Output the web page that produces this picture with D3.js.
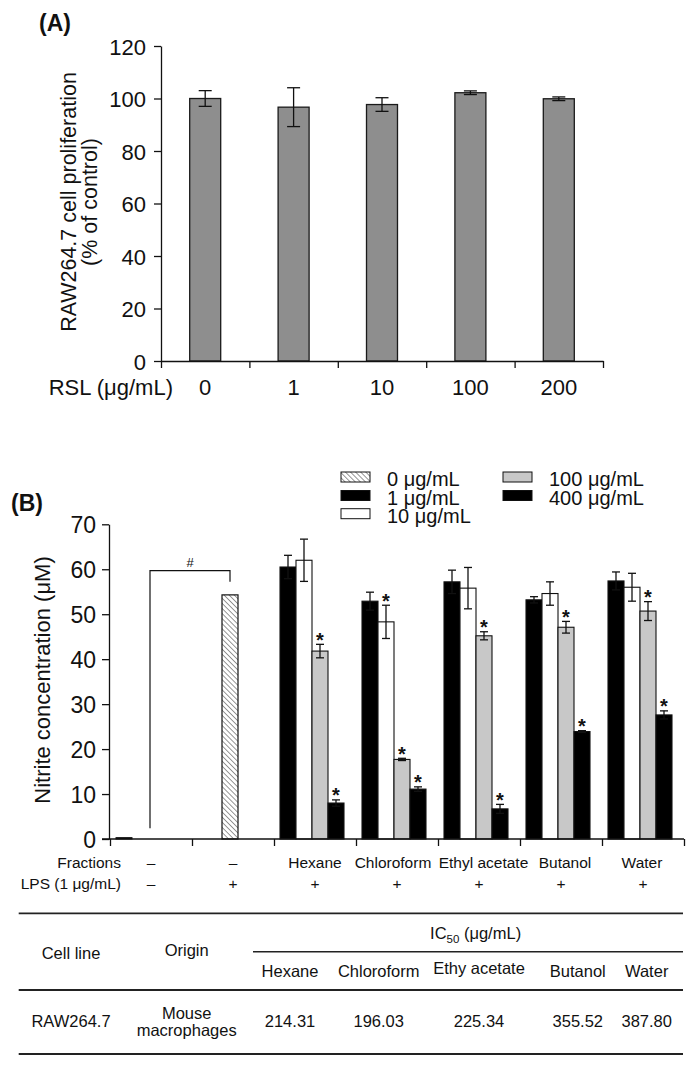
<!DOCTYPE html>
<html><head><meta charset="utf-8">
<script src="https://cdn.jsdelivr.net/npm/d3@7"></script>
<style>
body{margin:0;background:#fff}
svg{display:block}
text{font-family:"Liberation Sans",Arial,Helvetica,sans-serif;fill:#111}
</style>
</head><body>
<svg id="c" width="692" height="1067"></svg>
<script>
// ---------- Panel A data ----------
const rslDoses = ["0", "1", "10", "100", "200"];
const rslMean  = [100.0, 96.7, 97.7, 102.2, 99.9];
const rslErr   = [3.0, 7.4, 2.6, 0.7, 0.7];
const yTicksA  = [0, 20, 40, 60, 80, 100, 120];

// ---------- Panel B data ----------
const categoriesB = ["none", "lps", "Hexane", "Chloroform", "Ethyl acetate", "Butanol", "Water"];
const fractionRow = ["–", "–", "Hexane", "Chloroform", "Ethyl acetate", "Butanol", "Water"];
const lpsRow      = ["–", "+", "+", "+", "+", "+", "+"];
const fractions   = ["Hexane", "Chloroform", "Ethyl acetate", "Butanol", "Water"];
const mean1   = [60.5, 52.9, 57.2, 53.2, 57.4];
const err1    = [2.6, 2.0, 2.6, 0.7, 2.0];
const mean10  = [62.0, 48.3, 55.8, 54.6, 56.0];
const err10   = [4.7, 3.7, 4.6, 2.6, 3.1];
const mean100 = [41.8, 17.7, 45.2, 47.1, 50.7];
const err100  = [1.5, 0.25, 0.9, 1.3, 2.1];
const mean400 = [8.0, 11.1, 6.7, 23.9, 27.6];
const err400  = [0.7, 0.5, 1.0, 0.2, 0.9];
const star1   = [false, false, false, false, false];
const star10  = [false, true, false, false, false];
const star100 = [true, true, true, true, true];
const star400 = [true, true, true, true, true];
const ctrlNoLPS = 0.3;
const ctrlLPS = 54.3, ctrlLPSErr = 0.1;
const bracketLeftBottom = 2.4, bracketTop = 59.7, bracketRightBottom = 57.2;
const yTicksB = [0, 10, 20, 30, 40, 50, 60, 70];
const legendLabels = ["0 μg/mL", "1 μg/mL", "10 μg/mL", "100 μg/mL", "400 μg/mL"];

// ---------- Table data ----------
const ic50Cols   = ["Hexane", "Chloroform", "Ethy acetate", "Butanol", "Water"];
const ic50Values = ["214.31", "196.03", "225.34", "355.52", "387.80"];
const cellLine = "RAW264.7";
const origin = ["Mouse", "macrophages"];

const svg = d3.select("#c");
const INK = "#111";

const defs = svg.append("defs");
const pat = defs.append("pattern").attr("id", "hatch").attr("patternUnits", "userSpaceOnUse")
  .attr("width", 3.6).attr("height", 3.6).attr("patternTransform", "rotate(-45)");
pat.append("rect").attr("width", 3.6).attr("height", 3.6).attr("fill", "#fff");
pat.append("line").attr("x1", 0).attr("y1", 0).attr("x2", 0).attr("y2", 3.6)
  .attr("stroke", "#444").attr("stroke-width", 1.1);

function styleAxis(g, fs) {
  g.selectAll("path,line").attr("stroke", INK).attr("stroke-width", 1.3);
  g.selectAll("text").attr("font-size", fs).attr("fill", INK)
    .attr("font-family", "'Liberation Sans', Arial, sans-serif");
}

// ================= PANEL A =================
const xA = d3.scaleBand().domain(rslDoses).range([161, 603]);
const yA = d3.scaleLinear().domain([0, 120]).range([361, 46]);
const gA = svg.append("g");

svg.append("text").attr("x", 39).attr("y", 31).attr("font-size", 23).attr("font-weight", "bold").text("(A)");

const barWA = 31, capA = 13;
gA.selectAll("rect.a").data(rslDoses).join("rect")
  .attr("x", d => xA(d) + xA.bandwidth() / 2 - barWA / 2)
  .attr("y", (d, i) => yA(rslMean[i]))
  .attr("width", barWA)
  .attr("height", (d, i) => yA(0) - yA(rslMean[i]))
  .attr("fill", "#8e8e8e").attr("stroke", "#1a1a1a").attr("stroke-width", 1.3);

rslDoses.forEach((d, i) => {
  const cx = xA(d) + xA.bandwidth() / 2;
  const t = yA(rslMean[i] + rslErr[i]), b = yA(rslMean[i] - rslErr[i]);
  gA.append("line").attr("x1", cx).attr("x2", cx).attr("y1", t).attr("y2", b).attr("stroke", INK).attr("stroke-width", 1.3);
  [t, b].forEach(y => gA.append("line").attr("x1", cx - capA / 2).attr("x2", cx + capA / 2).attr("y1", y).attr("y2", y).attr("stroke", INK).attr("stroke-width", 1.3));
});

const axA = gA.append("g").attr("transform", "translate(161,0)")
  .call(d3.axisLeft(yA).tickValues(yTicksA).tickSize(7).tickSizeOuter(0).tickPadding(8));
styleAxis(axA, 22);
axA.selectAll("text").attr("dy", "0.37em");

const xAIdx = d3.scaleLinear().domain([0, rslDoses.length]).range([161, 603]);
const axAx = gA.append("g").attr("transform", "translate(0,361)")
  .call(d3.axisBottom(xAIdx).ticks(rslDoses.length).tickFormat("").tickSize(7).tickSizeOuter(0));
styleAxis(axAx, 22);

gA.selectAll("text.xl").data(rslDoses).join("text")
  .attr("x", d => xA(d) + xA.bandwidth() / 2).attr("y", 394.5)
  .attr("text-anchor", "middle").attr("font-size", 22).text(d => d);
gA.append("text").attr("x", 173).attr("y", 394.5).attr("text-anchor", "end").attr("font-size", 22).text("RSL (μg/mL)");

const ylA = gA.append("text").attr("transform", "translate(0,202) rotate(-90)").attr("text-anchor", "middle").attr("font-size", 21.5);
ylA.append("tspan").attr("x", 0).attr("y", 75.5).text("RAW264.7 cell proliferation");
ylA.append("tspan").attr("x", 0).attr("y", 96.5).text("(% of control)");

// ================= PANEL B =================
const xB = d3.scaleBand().domain(categoriesB).range([110, 684]);
const yB = d3.scaleLinear().domain([0, 70]).range([839, 524.3]);
const gB = svg.append("g");
const slotW = 16, capB = 8, shift = -3;
const center = c => xB(c) + xB.bandwidth() / 2 + shift;

svg.append("text").attr("x", 11).attr("y", 511).attr("font-size", 23).attr("font-weight", "bold").text("(B)");

// legend
const legFills = ["url(#hatch)", "#000", "#fff", "#c8c8c8", "#000"];
const legPos = [[341, 472], [341, 490.5], [341, 508.7], [503, 472], [503, 490.5]];
legendLabels.forEach((l, i) => {
  const [lx, ly] = legPos[i];
  gB.append("rect").attr("x", lx).attr("y", ly).attr("width", 29).attr("height", 10)
    .attr("fill", legFills[i]).attr("stroke", INK).attr("stroke-width", 1);
  gB.append("text").attr("x", lx + 46).attr("y", ly + 14).attr("font-size", 20).text(l);
});

// control bars
gB.append("rect").attr("x", center("none") - 2 * slotW).attr("y", yB(ctrlNoLPS))
  .attr("width", slotW).attr("height", yB(0) - yB(ctrlNoLPS))
  .attr("fill", "#000").attr("stroke", INK).attr("stroke-width", 1);
gB.append("rect").attr("x", center("lps") - slotW / 2).attr("y", yB(ctrlLPS))
  .attr("width", slotW).attr("height", yB(0) - yB(ctrlLPS))
  .attr("fill", "url(#hatch)").attr("stroke", INK).attr("stroke-width", 1.2);

// bracket with #
const bl = xB("none") + xB.bandwidth() / 2 - 1, br = center("lps");
gB.append("path").attr("d", `M${bl},${yB(bracketLeftBottom)}V${yB(bracketTop)}H${br}V${yB(bracketRightBottom)}`)
  .attr("fill", "none").attr("stroke", INK).attr("stroke-width", 1.2);
gB.append("text").attr("x", (bl + br) / 2).attr("y", yB(bracketTop) - 4).attr("text-anchor", "middle").attr("font-size", 13).text("#");

// grouped bars
const series = [
  {m: mean1, e: err1, s: star1, fill: "#000"},
  {m: mean10, e: err10, s: star10, fill: "#fff"},
  {m: mean100, e: err100, s: star100, fill: "#c8c8c8"},
  {m: mean400, e: err400, s: star400, fill: "#000"}
];
fractions.forEach((f, i) => {
  const cx0 = center(f) - 2 * slotW;
  series.forEach((s, j) => {
    const x = cx0 + j * slotW, v = s.m[i], er = s.e[i], cx = x + slotW / 2;
    gB.append("rect").attr("x", x).attr("y", yB(v)).attr("width", slotW).attr("height", yB(0) - yB(v))
      .attr("fill", s.fill).attr("stroke", INK).attr("stroke-width", 1.1);
    const t = yB(v + er), b = yB(v - er);
    gB.append("line").attr("x1", cx).attr("x2", cx).attr("y1", t).attr("y2", b).attr("stroke", INK).attr("stroke-width", 1.3);
    [t, b].forEach(y => gB.append("line").attr("x1", cx - capB / 2).attr("x2", cx + capB / 2).attr("y1", y).attr("y2", y).attr("stroke", INK).attr("stroke-width", 1.3));
    if (s.s[i]) gB.append("text").attr("x", cx).attr("y", t + 2.5).attr("text-anchor", "middle")
      .attr("font-size", 20).attr("font-weight", "bold").text("*");
  });
});

const axB = gB.append("g").attr("transform", "translate(109,0)")
  .call(d3.axisLeft(yB).tickValues(yTicksB).tickSize(7).tickSizeOuter(0).tickPadding(6));
styleAxis(axB, 23);
axB.selectAll("text").attr("dy", "0.37em");

const xBIdx = d3.scaleLinear().domain([0, categoriesB.length]).range([110, 684]);
const axBx = gB.append("g").attr("transform", "translate(0,839)")
  .call(d3.axisBottom(xBIdx).ticks(categoriesB.length).tickFormat("").tickSize(7).tickSizeOuter(0));
styleAxis(axBx, 16);
axBx.select("path.domain").attr("d", "M102,0H684");

gB.append("text").attr("transform", "translate(50,680) rotate(-90)").attr("text-anchor", "middle")
  .attr("font-size", 22).text("Nitrite concentration (μM)");

// small horizontal nudges so the long category labels sit as in the figure
const labelNudge = {"Chloroform": -4, "Ethyl acetate": 4.5, "Butanol": 4, "Water": -1};
categoriesB.forEach((c, i) => {
  const cx = xB(c) + xB.bandwidth() / 2;
  gB.append("text").attr("x", cx + (labelNudge[c] || 0)).attr("y", 867.5).attr("text-anchor", "middle").attr("font-size", 15.5).text(fractionRow[i]);
  gB.append("text").attr("x", cx).attr("y", 889).attr("text-anchor", "middle").attr("font-size", 15.5).text(lpsRow[i]);
});
gB.append("text").attr("x", 121).attr("y", 867.5).attr("text-anchor", "end").attr("font-size", 15.5).text("Fractions");
gB.append("text").attr("x", 121).attr("y", 889).attr("text-anchor", "end").attr("font-size", 15.5).text("LPS (1 μg/mL)");

// ================= TABLE =================
const gT = svg.append("g");
const colX = [290, 378.7, 479, 577.8, 646.7];
const rule = (x1, x2, y, w) => gT.append("line").attr("x1", x1).attr("x2", x2).attr("y1", y).attr("y2", y).attr("stroke", "#222").attr("stroke-width", w);
rule(18.7, 683, 913.3, 1.8);
rule(253, 683, 951.7, 1.5);
rule(18.7, 683, 990, 1.8);
rule(18.7, 683, 1054, 1.8);
const tfs = 16.5;
const ic = gT.append("text").attr("x", 475.6).attr("y", 939).attr("text-anchor", "middle").attr("font-size", tfs);
ic.append("tspan").text("IC");
ic.append("tspan").attr("font-size", 11.5).attr("dy", 4).text("50");
ic.append("tspan").attr("dy", -4).text(" (μg/mL)");
gT.append("text").attr("x", 71).attr("y", 958.7).attr("text-anchor", "middle").attr("font-size", tfs).text("Cell line");
gT.append("text").attr("x", 186.7).attr("y", 955.7).attr("text-anchor", "middle").attr("font-size", tfs).text("Origin");
ic50Cols.forEach((c, i) => {
  gT.append("text").attr("x", colX[i]).attr("y", i === 2 ? 973.7 : 977.4).attr("text-anchor", "middle").attr("font-size", tfs).text(c);
  gT.append("text").attr("x", colX[i]).attr("y", 1027.4).attr("text-anchor", "middle").attr("font-size", tfs).text(ic50Values[i]);
});
gT.append("text").attr("x", 71).attr("y", 1027.4).attr("text-anchor", "middle").attr("font-size", tfs).text(cellLine);
gT.append("text").attr("x", 186.7).attr("y", 1019).attr("text-anchor", "middle").attr("font-size", tfs).text(origin[0]);
gT.append("text").attr("x", 186.7).attr("y", 1035.5).attr("text-anchor", "middle").attr("font-size", tfs).text(origin[1]);
</script>
</body></html>
